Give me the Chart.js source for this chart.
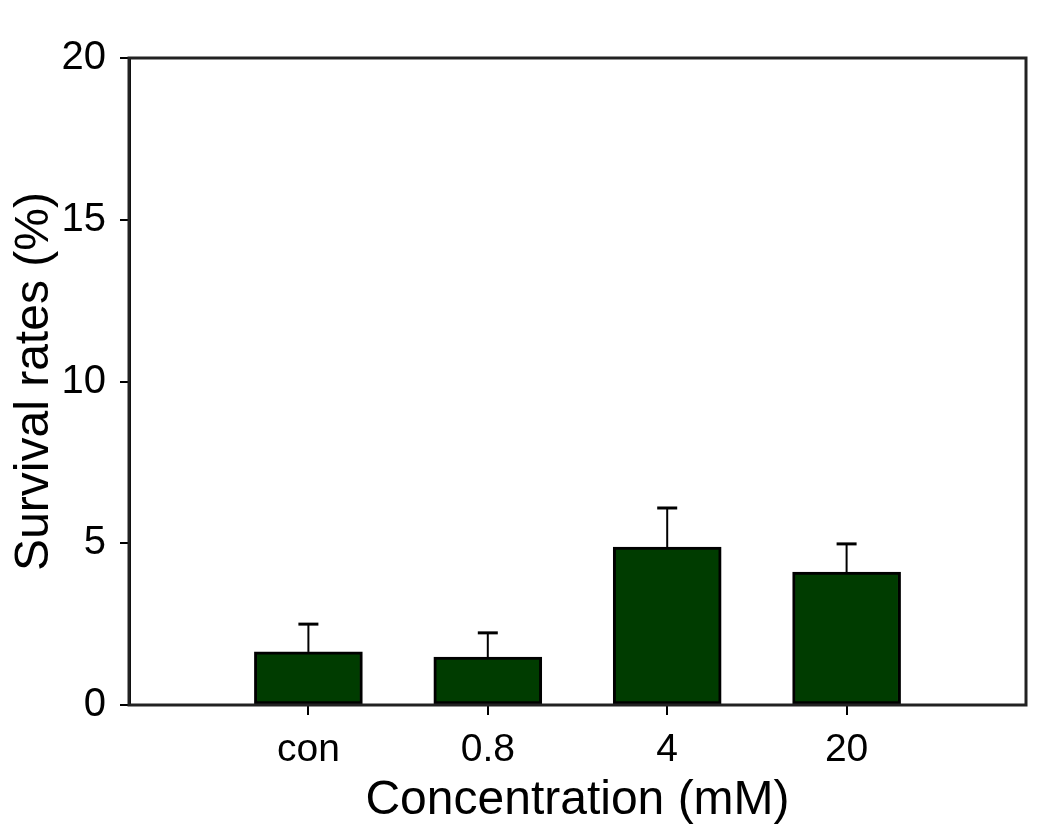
<!DOCTYPE html>
<html>
<head>
    <title>Survival rates</title>
    <style>
        body {
            margin: 0;
            background-color: #fff;
        }

        #chart-container {
            width: 1050px;
            height: 834px;
        }
    </style>
</head>
<body>
    <div id="chart-container">
        <canvas id="chart"></canvas>
    </div>

    <script src="https://cdn.jsdelivr.net/npm/chart.js"></script>
    <script>
const categories = ['con', '0.8', '4', '20'];
const survivalRates = [1.64, 1.48, 4.88, 4.11];
const errorTops = [2.5, 2.23, 6.09, 4.98];
const yTicks = [0, 5, 10, 15, 20];

const fontFamily = '"Liberation Sans", Arial, sans-serif';

// Upper error bars with a cap, drawn through the y scale
const errorBarPlugin = {
  id: 'errorBars',
  afterDatasetsDraw(chart) {
    const ctx = chart.ctx;
    const yScale = chart.scales.y;
    const meta = chart.getDatasetMeta(0);
    ctx.save();
    ctx.strokeStyle = '#000';
    meta.data.forEach((bar, i) => {
      const yTop = yScale.getPixelForValue(errorTops[i]);
      ctx.lineWidth = 2;
      ctx.beginPath();
      ctx.moveTo(bar.x, bar.y);
      ctx.lineTo(bar.x, yTop);
      ctx.stroke();
      ctx.lineWidth = 3;
      ctx.beginPath();
      ctx.moveTo(bar.x - 10, yTop);
      ctx.lineTo(bar.x + 10, yTop);
      ctx.stroke();
    });
    ctx.restore();
  }
};

// Box round the plot area
const framePlugin = {
  id: 'frame',
  afterDraw(chart) {
    const a = chart.chartArea;
    const ctx = chart.ctx;
    ctx.save();
    ctx.strokeStyle = '#222';
    ctx.lineWidth = 3;
    ctx.strokeRect(a.left, a.top, a.right - a.left, a.bottom - a.top);
    ctx.restore();
  }
};

const ctx = document.getElementById('chart').getContext('2d');

new Chart(ctx, {
  type: 'bar',
  data: {
    datasets: [{
      data: survivalRates.map((v, i) => ({ x: i + 1, y: v })),
      backgroundColor: '#003c00',
      borderColor: '#000',
      borderWidth: 3,
      borderSkipped: false,
      barThickness: 108
    }]
  },
  options: {
    responsive: true,
    maintainAspectRatio: false,
    animation: false,
    layout: {
      padding: { left: 0, top: 58, right: 24, bottom: 0 }
    },
    plugins: {
      legend: { display: false },
      tooltip: { enabled: false }
    },
    scales: {
      x: {
        type: 'linear',
        min: 0,
        max: 5,
        offset: false,
        afterBuildTicks: (scale) => {
          scale.ticks = categories.map((c, i) => ({ value: i + 1 }));
        },
        afterFit: (scale) => { scale.height = 129; },
        grid: {
          offset: false,
          drawOnChartArea: false,
          drawTicks: true,
          tickLength: 10,
          color: '#000',
          lineWidth: 2
        },
        border: { display: true, color: '#555', width: 2 },
        ticks: {
          color: '#000',
          padding: 12,
          maxRotation: 0,
          autoSkip: false,
          font: { family: fontFamily, size: 39 },
          callback: (value) => categories[value - 1] || ''
        },
        title: {
          display: true,
          text: 'Concentration (mM)',
          color: '#000',
          padding: { top: 0, bottom: 4 },
          font: { family: fontFamily, size: 48 }
        }
      },
      y: {
        min: 0,
        max: 20,
        afterBuildTicks: (scale) => {
          scale.ticks = yTicks.map(v => ({ value: v }));
        },
        afterFit: (scale) => { scale.width = 129; },
        grid: {
          drawOnChartArea: false,
          drawTicks: true,
          tickLength: 9,
          color: '#000',
          lineWidth: 2
        },
        border: { display: true, color: '#000', width: 3 },
        ticks: {
          color: '#000',
          padding: 14,
          font: { family: fontFamily, size: 40 }
        },
        title: {
          display: true,
          text: 'Survival rates (%)',
          color: '#000',
          padding: { top: 6, bottom: 0 },
          font: { family: fontFamily, size: 48 }
        }
      }
    }
  },
  plugins: [errorBarPlugin, framePlugin]
});
    </script>
</body>
</html>
